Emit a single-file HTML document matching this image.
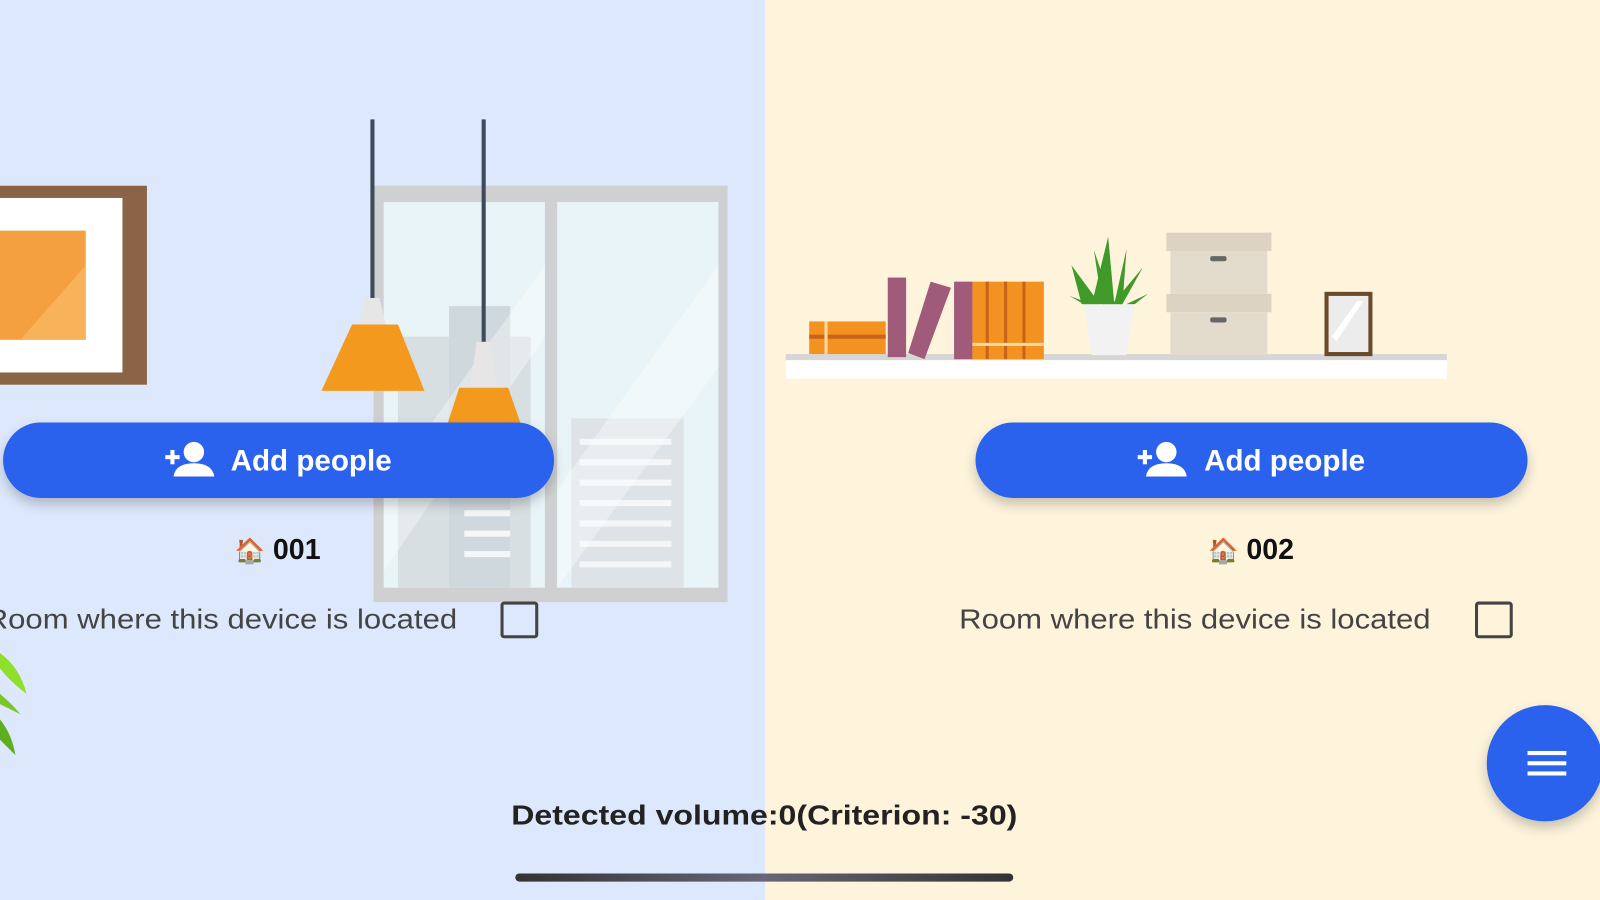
<!DOCTYPE html>
<html><head><meta charset="utf-8">
<style>
html,body{margin:0;padding:0;width:1600px;height:900px;overflow:hidden;background:#fff}
svg{display:block}
text{font-family:"Liberation Sans","Noto Sans CJK JP",sans-serif}
</style></head>
<body>
<svg width="1600" height="900" viewBox="0 0 1568 882" xmlns="http://www.w3.org/2000/svg">
<defs>
<filter id="sh" x="-10%" y="-30%" width="120%" height="180%"><feDropShadow dx="0" dy="6" stdDeviation="6" flood-color="#000" flood-opacity="0.22"/></filter>
<linearGradient id="bar" x1="0" x2="1"><stop offset="0" stop-color="#333"/><stop offset="0.5" stop-color="#667"/><stop offset="1" stop-color="#333"/></linearGradient>
</defs>
<rect x="0" y="0" width="750" height="882" fill="#dde8fc"/>
<rect x="750" y="0" width="818" height="882" fill="#fef4dc"/>

<rect x="-20" y="182" width="164" height="195" fill="#8b6347"/>
<rect x="-20" y="194" width="140" height="171" fill="#fff"/>
<rect x="-20" y="226" width="104" height="107" fill="#f4a040"/>
<polygon points="20,333 84,260 84,333" fill="#f7b25a"/>

<rect x="366" y="182" width="347" height="408" fill="#cfd0d2"/>
<rect x="376" y="198" width="158" height="378" fill="#e8f4f8"/>
<rect x="546" y="198" width="158" height="378" fill="#e8f4f8"/>
<rect x="390" y="330" width="130" height="246" fill="#d7dfe2"/>
<rect x="560" y="410" width="110" height="166" fill="#dde3e6"/>
<rect x="440" y="300" width="60" height="276" fill="#cfd8dc"/>
<g fill="#f4f6f7">
<rect x="568" y="430" width="90" height="6"/><rect x="568" y="450" width="90" height="6"/><rect x="568" y="470" width="90" height="6"/><rect x="568" y="490" width="90" height="6"/><rect x="568" y="510" width="90" height="6"/><rect x="568" y="530" width="90" height="6"/><rect x="568" y="550" width="90" height="6"/>
<rect x="455" y="500" width="45" height="6"/><rect x="455" y="520" width="45" height="6"/><rect x="455" y="540" width="45" height="6"/>
</g>
<polygon points="376,480 534,260 534,330 376,560" fill="#fff" opacity="0.35"/>
<polygon points="546,480 704,260 704,360 546,576" fill="#fff" opacity="0.35"/>

<rect x="363" y="117" width="4" height="175" fill="#3e4a5a"/>
<polygon points="358,292 372,292 378,318 352,318" fill="#e6e6e6"/>
<polygon points="345,318 390,318 416,383 315,383" fill="#f39a1e"/>
<rect x="472" y="117" width="4" height="218" fill="#3e4a5a"/>
<polygon points="467,335 481,335 487,380 461,380" fill="#e6e6e6"/>
<polygon points="450,380 498,380 512,420 437,420" fill="#f39a1e"/>

<path d="M0,640 Q20,655 26,680 Q10,668 0,655Z" fill="#8fe02a"/>
<path d="M0,680 Q12,690 20,700 Q8,694 0,690Z" fill="#7cc62a"/>
<path d="M0,705 Q12,720 15,740 Q5,730 0,725Z" fill="#5fae1e"/>

<rect x="770" y="347" width="648" height="6" fill="#d6d6d6"/>
<rect x="770" y="353" width="648" height="18" fill="#fff"/>
<rect x="793" y="315" width="75" height="32" fill="#f39220"/>
<rect x="793" y="328" width="75" height="4" fill="#c8641a"/>
<rect x="808" y="315" width="3" height="32" fill="#ffd9a0"/>
<rect x="870" y="272" width="18" height="78" fill="#a05a7a"/>
<polygon points="912,276 932,282 906,352 890,346" fill="#a05a7a"/>
<rect x="935" y="276" width="18" height="76" fill="#a05a7a"/>
<rect x="953" y="276" width="70" height="76" fill="#f39220"/>
<g fill="#c8641a"><rect x="966" y="276" width="3" height="76"/><rect x="984" y="276" width="3" height="76"/><rect x="1002" y="276" width="3" height="76"/></g>
<rect x="953" y="336" width="70" height="3" fill="#ffd9a0"/>
<polygon points="1062,298 1112,298 1104,348 1070,348" fill="#f2f2f2"/>
<g fill="#3f9a2a">
<polygon points="1070,298 1086,232 1092,298"/><polygon points="1060,298 1050,260 1078,298"/><polygon points="1100,298 1120,262 1090,298"/><polygon points="1080,298 1072,245 1090,298"/><polygon points="1092,298 1104,244 1100,298"/><polygon points="1048,290 1070,298 1062,298"/><polygon points="1125,288 1104,298 1112,298"/>
</g>
<rect x="1143" y="228" width="103" height="18" fill="#dcd3c3"/>
<rect x="1147" y="246" width="95" height="42" fill="#e3dccd"/>
<rect x="1143" y="288" width="103" height="18" fill="#dcd3c3"/>
<rect x="1147" y="306" width="95" height="42" fill="#e3dccd"/>
<rect x="1186" y="251" width="16" height="5" rx="2" fill="#666"/>
<rect x="1186" y="311" width="16" height="5" rx="2" fill="#666"/>
<rect x="1298" y="286" width="47" height="63" fill="#6b4a2a"/>
<rect x="1302" y="290" width="39" height="55" fill="#ececec"/>
<polygon points="1305,330 1330,295 1336,295 1310,334" fill="#fff"/>

<rect x="3" y="414" width="540" height="74" rx="37" fill="#2962ee" filter="url(#sh)"/>
<rect x="956" y="414" width="541" height="74" rx="37" fill="#2962ee" filter="url(#sh)"/>
<g fill="#fff">
<circle cx="190" cy="443" r="10"/><path d="M170,467 Q172,454 190,454 Q208,454 210,467Z"/>
<rect x="162" y="446" width="14" height="4"/><rect x="167" y="441" width="4" height="14"/>
<circle cx="1143" cy="443" r="10"/><path d="M1123,467 Q1125,454 1143,454 Q1161,454 1163,467Z"/>
<rect x="1115" y="446" width="14" height="4"/><rect x="1120" y="441" width="4" height="14"/>
</g>
<text x="226" y="461" font-size="29" font-weight="bold" fill="#fff">Add people</text>
<text x="1180" y="461" font-size="29" font-weight="bold" fill="#fff">Add people</text>

<text x="272" y="548" font-size="28" font-weight="bold" fill="#111" text-anchor="middle"><tspan font-size="24">🏠</tspan> 001</text>
<text x="1226" y="548" font-size="28" font-weight="bold" fill="#111" text-anchor="middle"><tspan font-size="24">🏠</tspan> 002</text>

<text x="-14" y="616" font-size="27" fill="#444" textLength="462" lengthAdjust="spacingAndGlyphs">Room where this device is located</text>
<text x="940" y="616" font-size="27" fill="#444" textLength="462" lengthAdjust="spacingAndGlyphs">Room where this device is located</text>
<rect x="492" y="591" width="34" height="33" rx="2" fill="none" stroke="#444" stroke-width="3"/>
<rect x="1447" y="591" width="34" height="33" rx="2" fill="none" stroke="#444" stroke-width="3"/>

<circle cx="1514" cy="748" r="57" fill="#2962ee" filter="url(#sh)"/>
<g fill="#fff"><rect x="1497" y="736" width="38" height="4"/><rect x="1497" y="746" width="38" height="4"/><rect x="1497" y="756" width="38" height="4"/></g>

<text x="501" y="808" font-size="27" font-weight="bold" fill="#222" textLength="496" lengthAdjust="spacingAndGlyphs">Detected volume:0(Criterion: -30)</text>
<rect x="505" y="856" width="488" height="8" rx="4" fill="url(#bar)"/>
</svg>
</body></html>
